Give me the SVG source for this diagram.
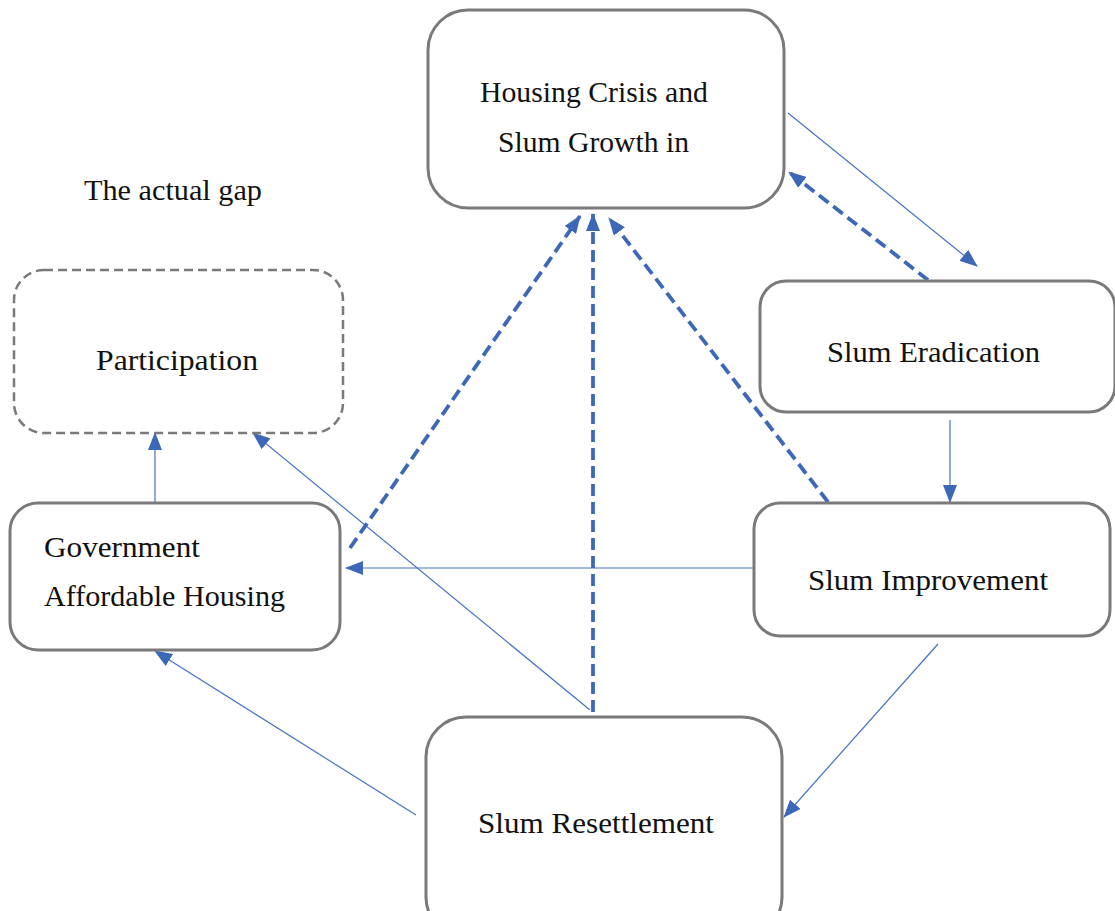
<svg xmlns="http://www.w3.org/2000/svg" width="1115" height="911" viewBox="0 0 1115 911">
<defs>
<style>
.box{fill:#fff;stroke:#7a7a7a;stroke-width:3}
.dbox{fill:#fff;stroke:#7a7a7a;stroke-width:2.5;stroke-dasharray:9 5}
.t{font-family:"Liberation Serif","DejaVu Serif",serif;font-size:28.5px;fill:#111}
.thin{stroke:#4472c4;stroke-width:1.2;fill:none}
.dash{stroke:#3d68b8;stroke-width:3.8;fill:none;stroke-dasharray:12 6}
</style>
<marker id="ah" markerUnits="userSpaceOnUse" markerWidth="18" markerHeight="14" refX="17" refY="7" orient="auto">
<path d="M0,0 L18,7 L0,14 Z" fill="#3d68b8"/>
</marker>
</defs>
<rect width="1115" height="911" fill="#fff"/>
<text class="t" x="84" y="200" textLength="178" lengthAdjust="spacingAndGlyphs">The actual gap</text>
<g id="connectors">
<line class="thin" x1="788" y1="113" x2="977" y2="266" marker-end="url(#ah)"/>
<line class="dash" x1="928" y1="280" x2="789" y2="172" marker-end="url(#ah)"/>
<line class="thin" x1="950" y1="420" x2="950" y2="502" marker-end="url(#ah)"/>
<line class="dash" x1="828" y1="502" x2="609" y2="218" marker-end="url(#ah)"/>
<line class="thin" x1="754" y1="568" x2="346" y2="568" marker-end="url(#ah)"/>
<line class="thin" x1="938" y1="644" x2="784" y2="817" marker-end="url(#ah)"/>
<line class="dash" x1="593" y1="712" x2="593" y2="214" marker-end="url(#ah)"/>
<line class="thin" x1="590" y1="710" x2="253" y2="433" marker-end="url(#ah)"/>
<line class="thin" x1="416" y1="815" x2="155" y2="651" marker-end="url(#ah)"/>
<line class="thin" x1="155" y1="503" x2="155" y2="433" marker-end="url(#ah)"/>
<line class="dash" x1="350" y1="548" x2="580" y2="216" marker-end="url(#ah)"/>
</g>
<g id="housing">
<rect class="box" x="428" y="10" width="356" height="198" rx="40"/>
<text class="t" x="480" y="102" textLength="228" lengthAdjust="spacingAndGlyphs">Housing Crisis and</text>
<text class="t" x="498" y="152" textLength="191" lengthAdjust="spacingAndGlyphs">Slum Growth in</text>
</g>
<g id="participation">
<rect class="dbox" x="14" y="270" width="329" height="163" rx="30"/>
<text class="t" x="96" y="370" textLength="162" lengthAdjust="spacingAndGlyphs">Participation</text>
</g>
<g id="government">
<rect class="box" x="10" y="503" width="330" height="147" rx="28"/>
<text class="t" x="44" y="557" textLength="156" lengthAdjust="spacingAndGlyphs">Government</text>
<text class="t" x="44" y="606" textLength="241" lengthAdjust="spacingAndGlyphs">Affordable Housing</text>
</g>
<g id="eradication">
<rect class="box" x="760" y="281" width="355" height="131" rx="26"/>
<text class="t" x="827" y="362" textLength="213" lengthAdjust="spacingAndGlyphs">Slum Eradication</text>
</g>
<g id="improvement">
<rect class="box" x="754" y="503" width="356" height="133" rx="26"/>
<text class="t" x="808" y="590" textLength="240" lengthAdjust="spacingAndGlyphs">Slum Improvement</text>
</g>
<g id="resettlement">
<rect class="box" x="426" y="717" width="356" height="220" rx="40"/>
<text class="t" x="478" y="833" textLength="236" lengthAdjust="spacingAndGlyphs">Slum Resettlement</text>
</g>
</svg>
